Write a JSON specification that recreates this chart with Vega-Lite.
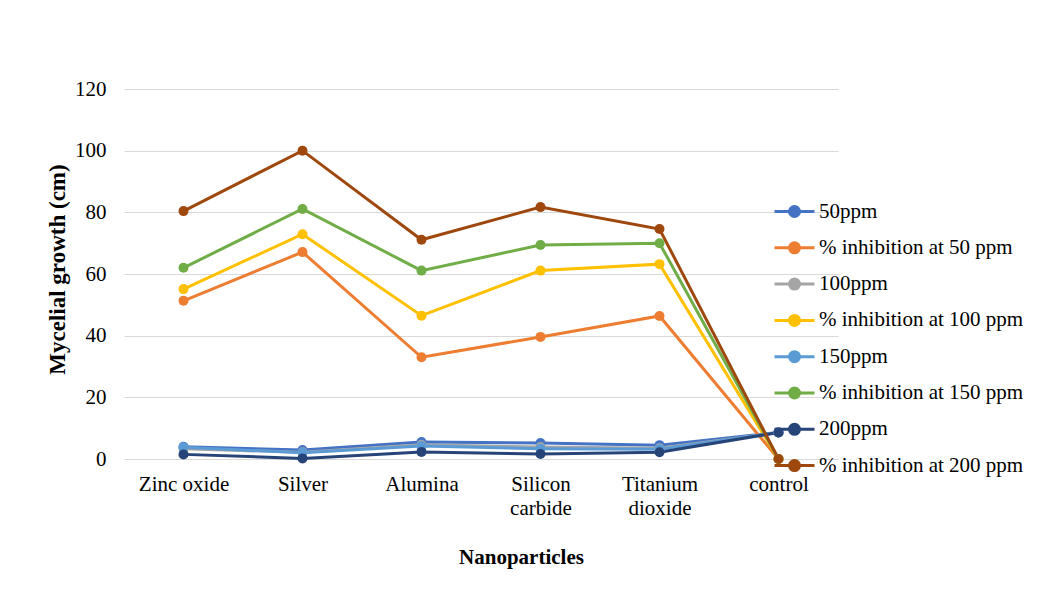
{
  "$schema": "https://vega.github.io/schema/vega-lite/v6.json",
  "width": 714,
  "height": 370,
  "autosize": "none",
  "padding": {"left": 124, "top": 89, "right": 205, "bottom": 151},
  "background": "white",
  "data": {
    "values": [
      {"np": "Zinc oxide", "series": "50ppm", "value": 4.0},
      {"np": "Silver", "series": "50ppm", "value": 2.9},
      {"np": "Alumina", "series": "50ppm", "value": 5.5},
      {"np": "Silicon carbide", "series": "50ppm", "value": 5.2},
      {"np": "Titanium dioxide", "series": "50ppm", "value": 4.5},
      {"np": "control", "series": "50ppm", "value": 8.6},
      {"np": "Zinc oxide", "series": "% inhibition at 50 ppm", "value": 51.3},
      {"np": "Silver", "series": "% inhibition at 50 ppm", "value": 67.1},
      {"np": "Alumina", "series": "% inhibition at 50 ppm", "value": 33.0},
      {"np": "Silicon carbide", "series": "% inhibition at 50 ppm", "value": 39.6},
      {"np": "Titanium dioxide", "series": "% inhibition at 50 ppm", "value": 46.4},
      {"np": "control", "series": "% inhibition at 50 ppm", "value": 0},
      {"np": "Zinc oxide", "series": "100ppm", "value": 3.3},
      {"np": "Silver", "series": "100ppm", "value": 2.2},
      {"np": "Alumina", "series": "100ppm", "value": 4.6},
      {"np": "Silicon carbide", "series": "100ppm", "value": 3.9},
      {"np": "Titanium dioxide", "series": "100ppm", "value": 3.5},
      {"np": "control", "series": "100ppm", "value": 8.6},
      {"np": "Zinc oxide", "series": "% inhibition at 100 ppm", "value": 55.1},
      {"np": "Silver", "series": "% inhibition at 100 ppm", "value": 72.9},
      {"np": "Alumina", "series": "% inhibition at 100 ppm", "value": 46.5},
      {"np": "Silicon carbide", "series": "% inhibition at 100 ppm", "value": 61.1},
      {"np": "Titanium dioxide", "series": "% inhibition at 100 ppm", "value": 63.2},
      {"np": "control", "series": "% inhibition at 100 ppm", "value": 0},
      {"np": "Zinc oxide", "series": "150ppm", "value": 3.8},
      {"np": "Silver", "series": "150ppm", "value": 2.0},
      {"np": "Alumina", "series": "150ppm", "value": 4.2},
      {"np": "Silicon carbide", "series": "150ppm", "value": 3.3},
      {"np": "Titanium dioxide", "series": "150ppm", "value": 3.2},
      {"np": "control", "series": "150ppm", "value": 8.6},
      {"np": "Zinc oxide", "series": "% inhibition at 150 ppm", "value": 62.0},
      {"np": "Silver", "series": "% inhibition at 150 ppm", "value": 81.1},
      {"np": "Alumina", "series": "% inhibition at 150 ppm", "value": 61.1},
      {"np": "Silicon carbide", "series": "% inhibition at 150 ppm", "value": 69.4},
      {"np": "Titanium dioxide", "series": "% inhibition at 150 ppm", "value": 70.0},
      {"np": "control", "series": "% inhibition at 150 ppm", "value": 0},
      {"np": "Zinc oxide", "series": "200ppm", "value": 1.5},
      {"np": "Silver", "series": "200ppm", "value": 0.2},
      {"np": "Alumina", "series": "200ppm", "value": 2.3},
      {"np": "Silicon carbide", "series": "200ppm", "value": 1.6},
      {"np": "Titanium dioxide", "series": "200ppm", "value": 2.2},
      {"np": "control", "series": "200ppm", "value": 8.6},
      {"np": "Zinc oxide", "series": "% inhibition at 200 ppm", "value": 80.4},
      {"np": "Silver", "series": "% inhibition at 200 ppm", "value": 100},
      {"np": "Alumina", "series": "% inhibition at 200 ppm", "value": 71.1},
      {"np": "Silicon carbide", "series": "% inhibition at 200 ppm", "value": 81.7},
      {"np": "Titanium dioxide", "series": "% inhibition at 200 ppm", "value": 74.6},
      {"np": "control", "series": "% inhibition at 200 ppm", "value": 0}
    ]
  },
  "mark": {
    "type": "line",
    "strokeWidth": 3,
    "point": {"filled": true, "size": 100}
  },
  "encoding": {
    "x": {
      "field": "np",
      "type": "nominal",
      "sort": null,
      "scale": {"type": "point", "padding": 0.5},
      "axis": {
        "title": "Nanoparticles",
        "labelAngle": 0,
        "labelExpr": "datum.label == 'Silicon carbide' ? ['Silicon', 'carbide'] : datum.label == 'Titanium dioxide' ? ['Titanium', 'dioxide'] : datum.label",
        "labelPadding": 14,
        "labelLineHeight": 24,
        "labelBaseline": "top",
        "ticks": false,
        "domain": false,
        "grid": false,
        "titleX": 397,
        "titleY": 98,
        "titleAnchor": null,
        "titleAlign": "center",
        "titleBaseline": "middle"
      }
    },
    "y": {
      "field": "value",
      "type": "quantitative",
      "scale": {"domain": [0, 120]},
      "axis": {
        "title": "Mycelial growth (cm)",
        "titleFontSize": 23,
        "values": [0, 20, 40, 60, 80, 100, 120],
        "ticks": false,
        "domain": false,
        "labelPadding": 18,
        "gridColor": "#D9D9D9",
        "gridWidth": 1,
        "titleX": -67,
        "titleY": 180,
        "titleAngle": -90,
        "titleAlign": "center",
        "titleBaseline": "middle"
      }
    },
    "color": {
      "field": "series",
      "type": "nominal",
      "sort": null,
      "scale": {
        "domain": ["50ppm", "% inhibition at 50 ppm", "100ppm", "% inhibition at 100 ppm", "150ppm", "% inhibition at 150 ppm", "200ppm", "% inhibition at 200 ppm"],
        "range": ["#4472C4", "#ED7D31", "#A5A5A5", "#FFC000", "#5B9BD5", "#70AD47", "#264478", "#9E480E"]
      },
      "legend": {
        "title": null,
        "orient": "none",
        "legendX": 659,
        "legendY": 111,
        "padding": 0,
        "rowPadding": 13.3,
        "symbolType": "M-2,0L2,0M-0.5,0A0.5,0.5,0,1,0,0.5,0A0.5,0.5,0,1,0,-0.5,0",
        "symbolSize": 400,
        "symbolStrokeWidth": 3,
        "labelOffset": 13,
        "labelLimit": 300,
        "encode": {
          "symbols": {
            "update": {
              "fill": {"scale": "color", "field": "value"},
              "stroke": {"scale": "color", "field": "value"},
              "opacity": {"value": 1}
            }
          }
        }
      }
    }
  },
  "config": {
    "view": {"stroke": null},
    "font": "Liberation Serif",
    "axis": {
      "labelFont": "Liberation Serif",
      "labelFontSize": 21,
      "labelColor": "#000000",
      "titleFont": "Liberation Serif",
      "titleFontSize": 21,
      "titleFontWeight": "bold",
      "titleColor": "#000000"
    },
    "legend": {
      "labelFont": "Liberation Serif",
      "labelFontSize": 21,
      "labelColor": "#000000"
    }
  }
}
